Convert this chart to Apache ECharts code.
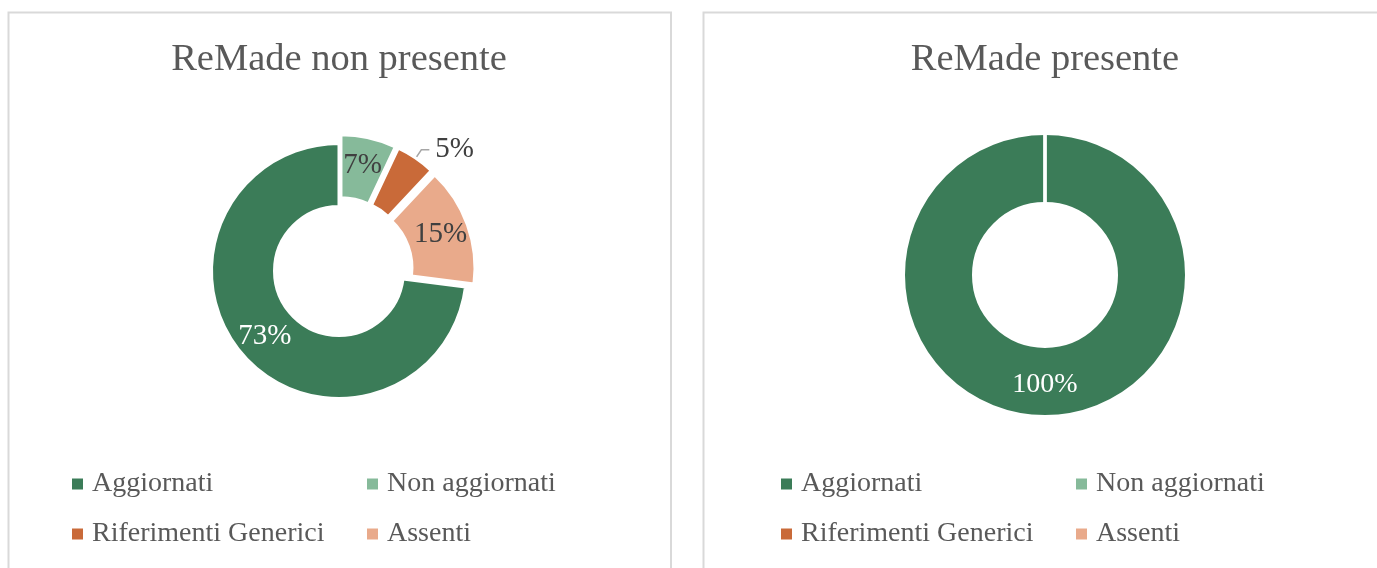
<!DOCTYPE html>
<html>
<head>
<meta charset="utf-8">
<script src="https://cdn.jsdelivr.net/npm/echarts@6/dist/echarts.min.js"></script>
<style>
html,body{margin:0;padding:0;background:#fff;}
#c{width:1377px;height:568px;}
</style>
</head>
<body>
<div id="c"></div>
<script>
const categories = ['Aggiornati', 'Non aggiornati', 'Riferimenti Generici', 'Assenti'];
const valuesNonPresente = [73, 7, 5, 15];
const valuesPresente = [100, 0, 0, 0];
const titles = ['ReMade non presente', 'ReMade presente'];
const colors = ['#3b7c58', '#86ba9a', '#c96a39', '#e9aa8b'];

const FONT = '"Liberation Serif", "Times New Roman", serif';
const TEXT = '#595959';
const DARK = '#404040';

function buildLeft() {
  return categories.map((name, i) => {
    const item = { name: name, value: valuesNonPresente[i] };
    if (i > 0) item.selected = true;
    if (i === 0) item.label = { color: '#ffffff' };
    if (i === 2) item.label = { position: 'outside', color: DARK, distanceToLabelLine: 6 };
    if (i === 2) item.labelLine = { show: true, length: 10, length2: 8, lineStyle: { color: '#a6a6a6', width: 1.5 } };
    return item;
  });
}
function buildRight() {
  return categories.map((name, i) => {
    const v = valuesPresente[i];
    const item = { name: name, value: v };
    item.label = { show: v > 0, color: '#ffffff' };
    return item;
  });
}

const legendIcon = 'path://M0,0h9v9h-9z';
function legend(left, names) {
  return {
    orient: 'vertical', left: left, top: 469, padding: 0,
    itemWidth: 19, itemHeight: 11, itemGap: 20,
    icon: legendIcon,
    itemStyle: { borderWidth: 0 },
    selectedMode: false,
    data: names,
    textStyle: { fontFamily: FONT, fontSize: 28, color: TEXT, lineHeight: 30 }
  };
}

const chart = echarts.init(document.getElementById('c'));
chart.setOption({
  animation: false,
  color: colors,
  title: [
    { text: titles[0], left: 339, top: 40, padding: 0, textAlign: 'center',
      textStyle: { fontFamily: FONT, fontSize: 38.5, fontWeight: 'normal', color: TEXT } },
    { text: titles[1], left: 1045, top: 40, padding: 0, textAlign: 'center',
      textStyle: { fontFamily: FONT, fontSize: 38.5, fontWeight: 'normal', color: TEXT } }
  ],
  legend: [
    legend(72, [categories[0], categories[2]]),
    legend(367, [categories[1], categories[3]]),
    legend(781, [categories[0], categories[2]]),
    legend(1076, [categories[1], categories[3]])
  ],
  graphic: [
    { type: 'rect', shape: { x: 8.5, y: 12.5, width: 662.5, height: 600 },
      style: { fill: 'none', stroke: '#d9d9d9', lineWidth: 2 }, silent: true },
    { type: 'rect', shape: { x: 703.5, y: 12.5, width: 700, height: 600 },
      style: { fill: 'none', stroke: '#d9d9d9', lineWidth: 2 }, silent: true }
  ],
  series: [
    {
      type: 'pie', center: [339, 271], radius: [64.5, 127.5],
      startAngle: -7.2, clockwise: true,
      selectedMode: 'multiple', selectedOffset: 9,
      avoidLabelOverlap: false,
      itemStyle: { borderColor: '#ffffff', borderWidth: 3 },
      label: { show: true, position: 'inside', formatter: '{c}%',
               fontFamily: FONT, fontSize: 29, color: DARK },
      labelLine: { show: false },
      emphasis: { disabled: true },
      data: buildLeft()
    },
    {
      type: 'pie', center: [1045, 275], radius: [71.5, 141.5],
      startAngle: 90, clockwise: true,
      avoidLabelOverlap: false,
      stillShowZeroSum: true,
      itemStyle: { borderColor: '#ffffff', borderWidth: 3 },
      label: { show: true, position: 'inside', formatter: '{c}%',
               fontFamily: FONT, fontSize: 28, color: '#ffffff' },
      labelLine: { show: false },
      emphasis: { disabled: true },
      data: buildRight()
    }
  ]
});
</script>
</body>
</html>
